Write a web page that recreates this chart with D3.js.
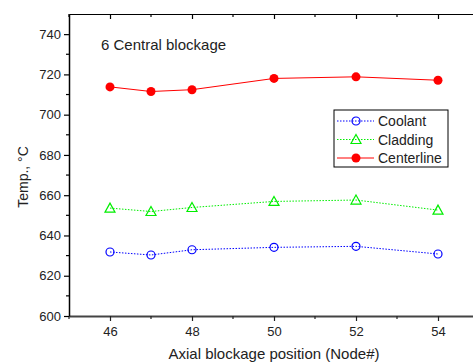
<!DOCTYPE html>
<html>
<head>
<meta charset="utf-8">
<script src="https://cdn.jsdelivr.net/npm/d3@7"></script>
<style>
  body { margin: 0; background: #fff; }
  text { font-family: "Liberation Sans", Arial, sans-serif; fill: #222; }
</style>
</head>
<body>
<script>
// data
var nodes = [46, 47, 48, 50, 52, 54];
var coolant = [631.8, 630.3, 632.9, 634.1, 634.6, 630.8];
var cladding = [653.6, 651.9, 653.9, 656.9, 657.6, 652.6];
var centerline = [713.8, 711.5, 712.4, 718.0, 718.8, 717.1];
var seriesNames = ["Coolant", "Cladding", "Centerline"];
var xTicks = [46, 48, 50, 52, 54];
var yTicks = [600, 620, 640, 660, 680, 700, 720, 740];

var W = 473, H = 363;
var margin = { top: 14, right: -47, bottom: 47, left: 69 };
var width = W - margin.left - margin.right;
var height = H - margin.top - margin.bottom;

var svg = d3.select("body").append("svg")
  .attr("width", W).attr("height", H);
var g = svg.append("g")
  .attr("transform", "translate(" + margin.left + "," + margin.top + ")");

var x = d3.scaleLinear().domain([45, 56]).range([0, width]);
var y = d3.scaleLinear().domain([600, 750]).range([height, 0]);

// minor ticks
var xMinor = d3.range(45, 57, 1).filter(function(v) { return v % 2 == 1; });
var yMinor = d3.range(610, 750, 20);

// bottom axis
var xAxis = g.append("g")
  .attr("transform", "translate(0," + height + ")")
  .call(d3.axisBottom(x).tickValues(xTicks).tickSize(5).tickSizeOuter(0).tickPadding(6));
xAxis.select(".domain").attr("stroke", "#444").attr("stroke-width", 2);
xAxis.selectAll(".tick line").attr("stroke", "#222").attr("stroke-width", 1.2);
xAxis.selectAll("text").style("font-size", "13px");
xAxis.selectAll(".minor").data(xMinor).enter().append("line")
  .attr("x1", function(d) { return x(d); }).attr("x2", function(d) { return x(d); })
  .attr("y1", 0).attr("y2", 3).attr("stroke", "#222").attr("stroke-width", 1.2);

// top frame with inward ticks
var topAxis = g.append("g")
  .call(d3.axisTop(x).tickValues(xTicks).tickSize(-5).tickSizeOuter(0).tickFormat(""));
topAxis.select(".domain").attr("stroke", "#000").attr("stroke-width", 1.2);
topAxis.selectAll(".tick line").attr("stroke", "#000").attr("stroke-width", 1.2);
topAxis.selectAll(".minor").data(xMinor).enter().append("line")
  .attr("x1", function(d) { return x(d); }).attr("x2", function(d) { return x(d); })
  .attr("y1", 0).attr("y2", 3).attr("stroke", "#000").attr("stroke-width", 1.2);

// left axis
var yAxis = g.append("g")
  .call(d3.axisLeft(y).tickValues(yTicks).tickSize(5).tickSizeOuter(0).tickPadding(3));
yAxis.select(".domain").attr("stroke", "#000").attr("stroke-width", 1.5);
yAxis.selectAll(".tick line").attr("stroke", "#000").attr("stroke-width", 1.2);
yAxis.selectAll("text").style("font-size", "13px");
yAxis.selectAll(".minor").data(yMinor).enter().append("line")
  .attr("x1", 0).attr("x2", -3)
  .attr("y1", function(d) { return y(d); }).attr("y2", function(d) { return y(d); })
  .attr("stroke", "#000").attr("stroke-width", 1.2);

// axis titles
svg.append("text")
  .attr("x", 274).attr("y", 359)
  .attr("text-anchor", "middle")
  .style("font-size", "15px")
  .text("Axial blockage position (Node#)");

svg.append("text")
  .attr("transform", "translate(28,177) rotate(-90)")
  .attr("text-anchor", "middle")
  .style("font-size", "14px")
  .text("Temp., \u00B0C");

g.append("text")
  .attr("x", 32).attr("y", 36)
  .style("font-size", "15px")
  .text("6 Central blockage");

// series
var series = [
  { name: seriesNames[0], values: coolant, color: "#0000ff", dash: "1.5,1.5", marker: "circle" },
  { name: seriesNames[1], values: cladding, color: "#00ee00", dash: "1.5,1.5", marker: "triangle" },
  { name: seriesNames[2], values: centerline, color: "#ff0000", dash: null, marker: "dot" }
];

var line = d3.line()
  .x(function(d) { return x(d[0]); })
  .y(function(d) { return y(d[1]); });

function drawMarker(sel, s, cx, cy) {
  if (s.marker == "circle") {
    sel.append("circle").attr("cx", cx).attr("cy", cy).attr("r", 4)
      .attr("fill", "none").attr("stroke", s.color).attr("stroke-width", 1.2);
  } else if (s.marker == "triangle") {
    sel.append("path")
      .attr("transform", "translate(" + cx + "," + cy + ")")
      .attr("d", "M0,-5L5,4L-5,4Z")
      .attr("fill", "none").attr("stroke", s.color).attr("stroke-width", 1.2);
  } else {
    sel.append("circle").attr("cx", cx).attr("cy", cy).attr("r", 4.5)
      .attr("fill", s.color);
  }
}

series.forEach(function(s) {
  var pts = nodes.map(function(n, i) { return [n, s.values[i]]; });
  g.append("path")
    .datum(pts)
    .attr("fill", "none")
    .attr("stroke", s.color)
    .attr("stroke-width", 1)
    .attr("stroke-dasharray", s.dash)
    .attr("d", line);
  pts.forEach(function(p) {
    drawMarker(g, s, x(p[0]), y(p[1]));
  });
});

// legend
var legend = svg.append("g").attr("transform", "translate(334,110)");
legend.append("rect").attr("width", 114).attr("height", 57)
  .attr("fill", "#fff").attr("stroke", "#000").attr("stroke-width", 1);
series.forEach(function(s, i) {
  var ly = 11 + i * 18.5;
  legend.append("line")
    .attr("x1", 3).attr("x2", 40).attr("y1", ly).attr("y2", ly)
    .attr("stroke", s.color).attr("stroke-width", 1)
    .attr("stroke-dasharray", s.dash);
  drawMarker(legend, s, 22, ly);
  legend.append("text")
    .attr("x", 44).attr("y", ly + 5)
    .style("font-size", "14px")
    .text(s.name);
});
</script>
</body>
</html>
